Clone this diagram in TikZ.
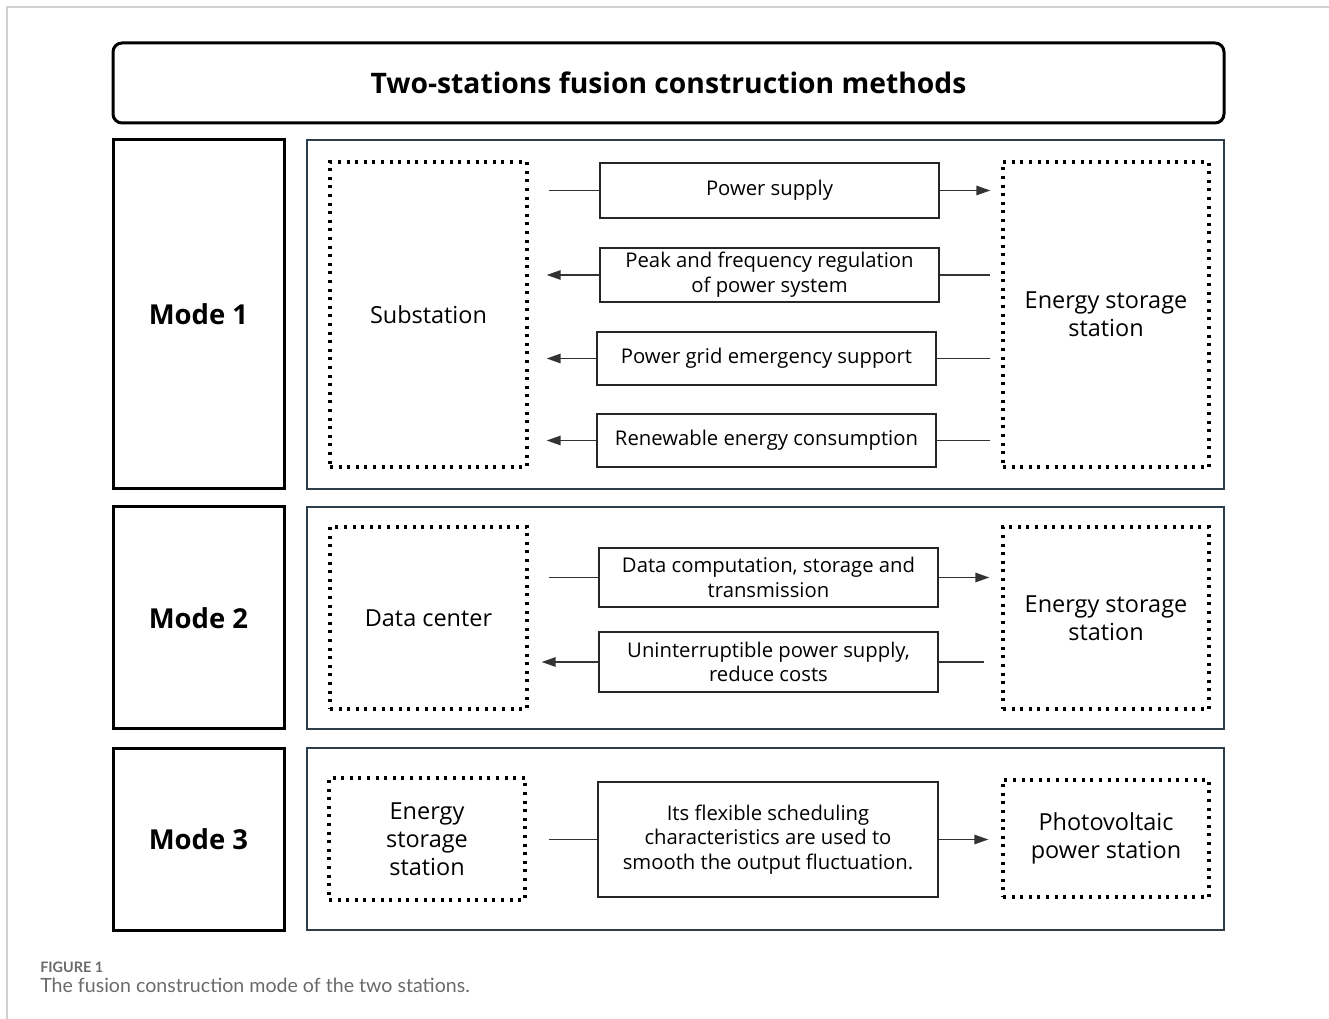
\documentclass[tikz,border=0pt]{standalone}
\usepackage{fontspec}
\setmainfont{Open Sans}
\newfontfamily\capfont{Lato}
\usetikzlibrary{arrows.meta}
\definecolor{panel}{HTML}{2E3D4A}
\definecolor{framegray}{HTML}{D0D0D0}
\definecolor{capgray}{HTML}{6A6A6A}
\tikzset{
  titlebox/.style={draw=black, line width=2.25pt, rounded corners=6.75pt, inner sep=0pt},
  modebox/.style={draw=black, line width=2.25pt, inner sep=0pt, font=\fontsize{20.6pt}{24pt}\selectfont\bfseries},
  panelbox/.style={draw=panel, line width=1.875pt, inner sep=0pt},
  dotbox/.style={draw=black, line width=2.4pt, dash pattern=on 2.25pt off 4.2pt, inner sep=0pt, align=center, font=\fontsize{17.6pt}{21pt}\selectfont},
  itembox/.style={draw=black!85, line width=1.125pt, inner sep=0pt, align=center, font=\fontsize{15.2pt}{18.6pt}\selectfont},
  conn/.style={draw=black!80, line width=1.3pt},
  arr/.style={conn, -{Triangle[length=10.5pt,width=7pt]}},
}
\begin{document}
\begin{tikzpicture}[x=0.75pt,y=-0.75pt]
\useasboundingbox (0,0) rectangle (1329,1019);
% page frame
\draw[framegray, line width=1.125pt] (7,1019) -- (7,7) -- (1329,7);

% title
\node[titlebox, minimum width=833.25pt, minimum height=60pt, font=\fontsize{21.2pt}{25pt}\selectfont\bfseries] (title) at (668.5,83) {Two-stations fusion construction methods};

% mode boxes
\node[modebox, minimum width=128.25pt, minimum height=261.75pt] (m1) at (198.5,314.5) {Mode 1};
\node[modebox, minimum width=128.25pt, minimum height=166.5pt] (m2) at (198.5,618) {Mode 2};
\node[modebox, minimum width=128.25pt, minimum height=136.5pt] (m3) at (198.5,839) {Mode 3};

% panels
\node[panelbox, minimum width=687.75pt, minimum height=261.75pt] (p1) at (765.5,314.5) {};
\node[panelbox, minimum width=687.75pt, minimum height=166.5pt] (p2) at (765.5,618) {};
\node[panelbox, minimum width=687.75pt, minimum height=136.5pt] (p3) at (765.5,839) {};

% Mode 1
\node[dotbox, minimum width=147.75pt, minimum height=228.75pt] (sub) at (428.5,314.5) {Substation};
\node[dotbox, minimum width=154.5pt, minimum height=228.75pt] (es1) at (1106,314.5) {Energy storage\\station};
\node[itembox, minimum width=254.25pt, minimum height=41.25pt] (ps) at (769.5,190.5) {Power supply};
\node[itembox, minimum width=254.25pt, minimum height=40.5pt] (peak) at (769.5,275) {Peak and frequency regulation\\of power system};
\node[itembox, minimum width=254.25pt, minimum height=39.75pt] (grid) at (766.5,358.5) {Power grid emergency support};
\node[itembox, minimum width=254.25pt, minimum height=39.75pt] (ren) at (766.5,440.5) {Renewable energy consumption};

\draw[conn, shorten <=15pt] (ps.west -| sub.east) -- (ps.west);
\draw[arr, shorten >=8.25pt] (ps.east) -- (ps.east -| es1.west);
\draw[arr, shorten >=13.5pt] (peak.west) -- (peak.west -| sub.east);
\draw[conn, shorten <=8.25pt] (peak.east -| es1.west) -- (peak.east);
\draw[arr, shorten >=13.5pt] (grid.west) -- (grid.west -| sub.east);
\draw[conn, shorten <=8.25pt] (grid.east -| es1.west) -- (grid.east);
\draw[arr, shorten >=13.5pt] (ren.west) -- (ren.west -| sub.east);
\draw[conn, shorten <=8.25pt] (ren.east -| es1.west) -- (ren.east);

% Mode 2
\node[dotbox, minimum width=147.75pt, minimum height=136.5pt] (dc) at (428.5,618) {Data center};
\node[dotbox, minimum width=154.5pt, minimum height=136.5pt] (es2) at (1106,618) {Energy storage\\station};
\node[itembox, minimum width=254.25pt, minimum height=44.25pt] (dct) at (768.5,577.5) {Data computation, storage and\\transmission};
\node[itembox, minimum width=254.25pt, minimum height=45pt] (ups) at (768.5,662) {Uninterruptible power supply,\\reduce costs};

\draw[conn, shorten <=15pt] (dct.west -| dc.east) -- (dct.west);
\draw[arr, shorten >=9pt] (dct.east) -- (dct.east -| es2.west);
\draw[arr, shorten >=9.75pt] (ups.west) -- (ups.west -| dc.east);
\draw[conn, shorten <=12.75pt] (ups.east -| es2.west) -- (ups.east);

% Mode 3
\node[dotbox, minimum width=147pt, minimum height=91.5pt] (es3) at (427,839) {Energy\\storage\\station};
\node[dotbox, minimum width=154.5pt, minimum height=87.75pt] (pv) at (1106,838.5) {Photovoltaic\\power station};
\node[itembox, minimum width=255pt, minimum height=86.25pt] (flex) at (768,839.5) {Its flexible scheduling\\characteristics are used to\\smooth the output fluctuation.};

\draw[conn, shorten <=16.5pt] (flex.west -| es3.east) -- (flex.west);
\draw[arr, shorten >=9.75pt] (flex.east) -- (flex.east -| pv.west);

% caption
\node[anchor=base west, inner sep=0pt, text=capgray, font=\capfont\fontsize{10.8pt}{12pt}\selectfont\bfseries] (fig) at (40,972) {FIGURE 1};
\node[anchor=base west, inner sep=0pt, text=capgray, font=\capfont\fontsize{14.7pt}{17pt}\selectfont] (cap) at (40,992) {The fusion construction mode of the two stations.};
\end{tikzpicture}
\end{document}
